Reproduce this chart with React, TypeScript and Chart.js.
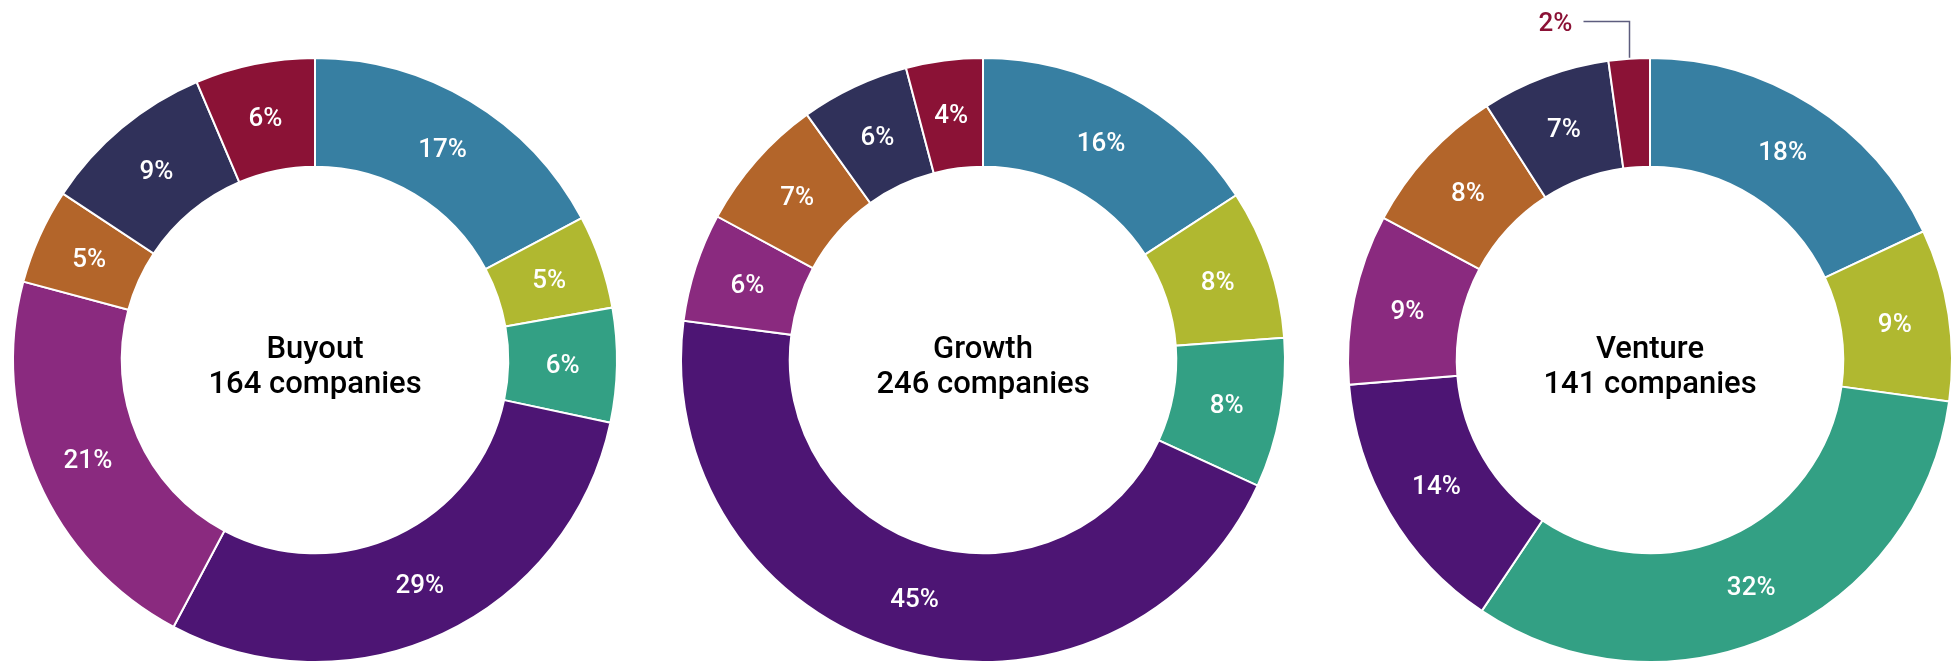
import React, { useEffect, useRef } from "react";
import { Chart, registerables } from "chart.js";

Chart.register(...registerables);

// ---- data ----
const categories = ["Segment 1", "Segment 2", "Segment 3", "Segment 4", "Segment 5", "Segment 6", "Segment 7", "Segment 8"];
const sliceColors = ["#377fa2", "#b0b830", "#33a084", "#4d1574", "#8a2a7f", "#b3652a", "#30315a", "#8b1236"];

const buyoutValues = [17.2, 5.0, 6.1, 29.4, 21.4, 5.1, 9.3, 6.4];
const growthValues = [15.8, 8.0, 8.0, 45.2, 5.8, 7.2, 5.8, 4.1];
const ventureValues = [18.0, 9.2, 32.2, 14.3, 9.1, 8.1, 6.9, 2.2];

const chartTitles = ["Buyout", "Growth", "Venture"];
const companyCounts = [164, 246, 141];
const chartCenters = [315, 983, 1650];

const CANVAS_W = 640;
const CANVAS_H = 664;

const labelPlugin = {
  id: "sliceLabels",
  afterDatasetsDraw(chart: any, _args: any, opts: any) {
    const ctx = chart.ctx as CanvasRenderingContext2D;
    const meta = chart.getDatasetMeta(0);
    const data = chart.data.datasets[0].data as number[];
    const colors = chart.data.datasets[0].backgroundColor as string[];
    ctx.save();
    let cx = 0;
    let cy = 0;
    meta.data.forEach((arc: any, i: number) => {
      const v = data[i];
      const text = Math.round(v) + "%";
      const props = arc.getProps(["x", "y", "startAngle", "endAngle", "outerRadius", "innerRadius"], true);
      cx = props.x;
      cy = props.y;
      ctx.font = "500 26px Roboto, 'Liberation Sans', sans-serif";
      if (v >= 3) {
        const p = arc.tooltipPosition(true);
        ctx.fillStyle = "#ffffff";
        ctx.textAlign = "center";
        ctx.textBaseline = "alphabetic";
        ctx.fillText(text, p.x, p.y + 9);
      } else {
        const mid = (props.startAngle + props.endAngle) / 2;
        const px = Math.round(props.x + Math.cos(mid) * props.outerRadius) + 0.5;
        const py = props.y + Math.sin(mid) * props.outerRadius;
        const ly = Math.round(py - 38) + 0.5;
        ctx.strokeStyle = "#5d5d7e";
        ctx.lineWidth = 1.5;
        ctx.beginPath();
        ctx.moveTo(px, py - 1);
        ctx.lineTo(px, ly);
        ctx.lineTo(px - 46, ly);
        ctx.stroke();
        ctx.fillStyle = colors[i];
        ctx.textAlign = "right";
        ctx.textBaseline = "alphabetic";
        ctx.fillText(text, px - 57, ly + 9);
      }
    });
    ctx.fillStyle = "#000000";
    ctx.textAlign = "center";
    ctx.textBaseline = "alphabetic";
    ctx.font = "500 31px Roboto, 'Liberation Sans', sans-serif";
    ctx.fillText(opts.title, cx, cy - 2);
    ctx.fillText(opts.subtitle, cx, cy + 33);
    ctx.restore();
  },
};

function Donut({ values, title, count, center }: { values: number[]; title: string; count: number; center: number }) {
  const ref = useRef<HTMLCanvasElement | null>(null);
  useEffect(() => {
    if (!ref.current) return;
    const chart = new Chart(ref.current, {
      type: "doughnut",
      data: {
        labels: categories,
        datasets: [
          {
            data: values,
            backgroundColor: sliceColors,
            borderColor: "#ffffff",
            borderWidth: 2,
            borderJoinStyle: "miter",
          },
        ],
      },
      options: {
        responsive: false,
        animation: false,
        cutout: "64%",
        layout: { padding: { top: 57, bottom: 1, left: 0, right: 0 } },
        plugins: {
          legend: { display: false },
          tooltip: { enabled: false },
          sliceLabels: { title, subtitle: `${count} companies` },
        } as any,
      },
      plugins: [labelPlugin],
    });
    return () => chart.destroy();
  }, [values, title, count]);
  return (
    <div style={{ position: "absolute", left: center - CANVAS_W / 2, top: 0, width: CANVAS_W, height: CANVAS_H }}>
      <canvas ref={ref} width={CANVAS_W} height={CANVAS_H} style={{ width: CANVAS_W, height: CANVAS_H, display: "block" }} />
    </div>
  );
}

export default function App() {
  const allValues = [buyoutValues, growthValues, ventureValues];
  return (
    <div
      style={{
        position: "fixed",
        left: 0,
        top: 0,
        width: 1952,
        height: 661,
        overflow: "hidden",
        background: "#ffffff",
      }}
    >
      {chartTitles.map((t, i) => (
        <Donut key={t} values={allValues[i]} title={t} count={companyCounts[i]} center={chartCenters[i]} />
      ))}
    </div>
  );
}
